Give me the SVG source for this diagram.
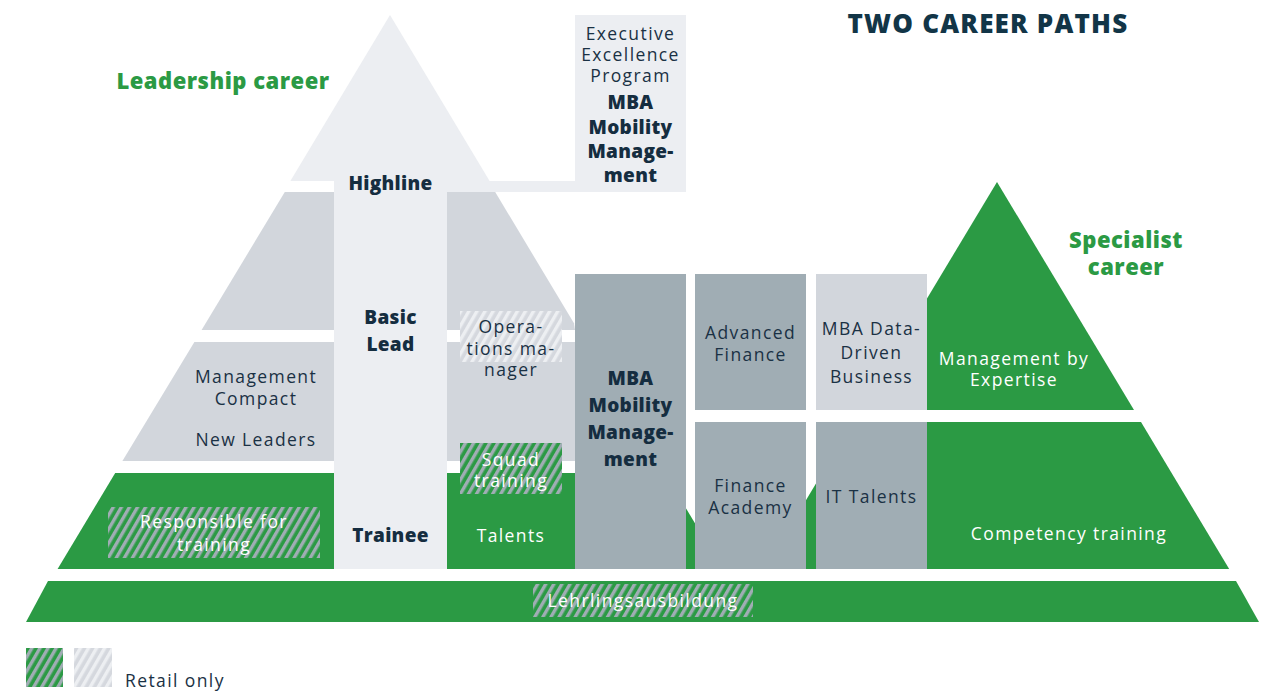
<svg xmlns="http://www.w3.org/2000/svg" width="1262" height="691" viewBox="0 0 1262 691">
<defs>
<pattern id="hatchGreen" width="7" height="7" patternUnits="userSpaceOnUse" patternTransform="rotate(30)">
<rect width="7" height="7" fill="#2B9A44"/>
<rect width="3.4" height="7" fill="#A0ADB4"/>
</pattern>
<pattern id="hatchLight" width="7" height="7" patternUnits="userSpaceOnUse" patternTransform="rotate(30)">
<rect width="7" height="7" fill="#D5D8DE"/>
<rect width="3.4" height="7" fill="#EDEFF2"/>
</pattern>
<style>
.green{fill:#2B9A44}
.light{fill:#ECEEF2}
.mid{fill:#D2D6DC}
.dark{fill:#A0ADB4}
.hg{fill:url(#hatchGreen)}
.hl{fill:url(#hatchLight)}
text{font-family:"Open Sans","Liberation Sans",sans-serif;text-anchor:middle}
.t{font-size:17.5px;fill:#1A3144;letter-spacing:1.4px}
.tw{font-size:17.5px;fill:#FFFFFF;letter-spacing:1.4px}
.b{font-size:19px;font-weight:800;fill:#152D40;letter-spacing:0.3px}
.g{font-size:22px;font-weight:800;fill:#2B9A44;letter-spacing:0.5px}
.title{font-size:26px;font-weight:800;fill:#123547;letter-spacing:1.2px}
</style>
</defs>
<rect width="1262" height="691" fill="#FFFFFF"/>

<g id="left-pyramid">
<polygon class="light" points="390,15 489.6,181 290.4,181"/>
<polygon class="mid" points="284.8,192 495.2,192 574,323.3 575,330 201.6,330"/>
<polygon class="mid" points="194.4,342 585.6,342 657,461 122.4,461"/>
<polygon class="green" points="115.2,473 664.8,473 722.4,569 57.6,569"/>
</g>
<g id="right-pyramid">
<polygon class="green" points="997,182 1134,410 860,410"/>
<polygon class="green" points="852.8,422 1141,422 1229.2,569 764.8,569"/>
</g>
<g id="base">
<polygon class="green" points="48,581 1236,581 1259,622 26,622"/>
</g>

<g id="connectors">
<rect class="light" x="447" y="181" width="128" height="11"/>
</g>

<g id="highline-column">
<rect class="light" x="334" y="170" width="113" height="399"/>
<text class="b" x="390.5" y="190">Highline</text>
<text class="b" x="390.5" y="324">Basic</text>
<text class="b" x="390.5" y="351">Lead</text>
<text class="b" x="390.5" y="542">Trainee</text>
</g>

<g id="executive-box">
<rect class="light" x="575" y="15" width="111" height="177"/>
<text class="t" x="630.5" y="40">Executive</text>
<text class="t" x="630.5" y="61">Excellence</text>
<text class="t" x="630.5" y="82">Program</text>
<text class="b" x="630.5" y="109">MBA</text>
<text class="b" x="630.5" y="134">Mobility</text>
<text class="b" x="630.5" y="158">Manage-</text>
<text class="b" x="630.5" y="182">ment</text>
</g>

<g id="management-compact">
<text class="t" x="256" y="383">Management</text>
<text class="t" x="256" y="405">Compact</text>
<text class="t" x="256" y="446">New Leaders</text>
</g>

<g id="operations-manager">
<rect class="hl" x="460" y="311" width="102" height="51"/>
<text class="t" x="511" y="333">Opera-</text>
<text class="t" x="511" y="354.5">tions ma-</text>
<text class="t" x="511" y="376">nager</text>
</g>

<g id="squad-training">
<rect class="hg" x="460" y="443" width="102" height="51"/>
<text class="tw" x="511" y="466">Squad</text>
<text class="tw" x="511" y="487">training</text>
</g>

<g id="talents">
<text class="tw" x="511" y="542">Talents</text>
</g>

<g id="responsible-for-training">
<rect class="hg" x="108" y="507" width="212" height="51"/>
<text class="tw" x="214" y="528">Responsible for</text>
<text class="tw" x="214" y="551">training</text>
</g>

<g id="mba-mobility">
<rect class="dark" x="575" y="274" width="111" height="295"/>
<text class="b" x="630.5" y="385">MBA</text>
<text class="b" x="630.5" y="412">Mobility</text>
<text class="b" x="630.5" y="439">Manage-</text>
<text class="b" x="630.5" y="466">ment</text>
</g>

<g id="advanced-finance">
<rect class="dark" x="695" y="274" width="111" height="136"/>
<text class="t" x="750.5" y="339">Advanced</text>
<text class="t" x="750.5" y="361">Finance</text>
</g>

<g id="mba-data-driven">
<rect class="mid" x="816" y="274" width="111" height="136"/>
<text class="t" x="871.5" y="335">MBA Data-</text>
<text class="t" x="871.5" y="359">Driven</text>
<text class="t" x="871.5" y="383">Business</text>
</g>

<g id="finance-academy">
<rect class="dark" x="695" y="422" width="111" height="147"/>
<text class="t" x="750.5" y="492">Finance</text>
<text class="t" x="750.5" y="514">Academy</text>
</g>

<g id="it-talents">
<rect class="dark" x="816" y="422" width="111" height="147"/>
<text class="t" x="871.5" y="503">IT Talents</text>
</g>

<g id="management-by-expertise">
<text class="tw" x="1014" y="365">Management by</text>
<text class="tw" x="1014" y="386">Expertise</text>
</g>

<g id="competency-training">
<text class="tw" x="1069" y="540">Competency training</text>
</g>

<g id="lehrlingsausbildung">
<rect class="hg" x="533" y="584" width="220" height="33"/>
<text class="tw" x="643" y="607">Lehrlingsausbildung</text>
</g>

<g id="labels">
<text class="title" x="988" y="33">TWO CAREER PATHS</text>
<text class="g" x="223" y="88.5">Leadership career</text>
<text class="g" x="1126" y="247.5">Specialist</text>
<text class="g" x="1126" y="274.5">career</text>
</g>

<g id="legend">
<rect class="hg" x="26" y="648" width="37" height="39"/>
<rect class="hl" x="74" y="648" width="38" height="39"/>
<text class="t" x="125" y="687" style="text-anchor:start">Retail only</text>
</g>
</svg>
